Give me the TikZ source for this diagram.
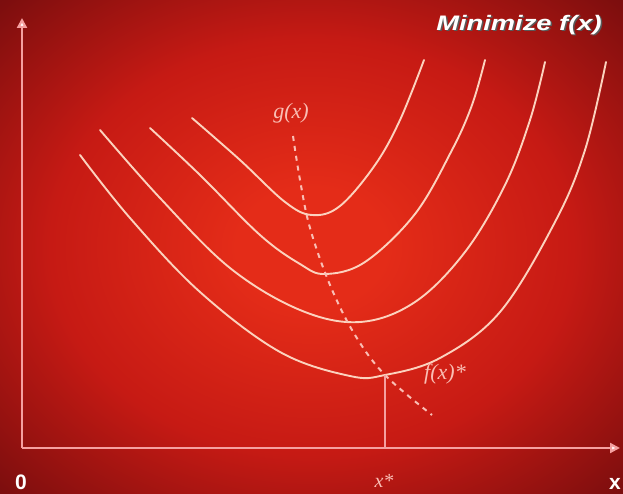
\documentclass[tikz,border=0pt]{standalone}
\usepackage{fontspec}
\setmainfont{Liberation Serif}
\setsansfont{Liberation Sans}
\usetikzlibrary{arrows.meta}
\definecolor{bgin}{RGB}{228,44,24}
\definecolor{bgmid}{RGB}{198,26,20}
\definecolor{bgout}{RGB}{125,14,14}
\definecolor{bgcorner}{RGB}{82,8,8}
\definecolor{curvec}{RGB}{252,210,190}
\definecolor{axisc}{RGB}{245,160,160}
\definecolor{labc}{RGB}{250,190,180}
\pgfdeclareradialshading{bgshade}{\pgfpoint{0bp}{0bp}}{%
  color(0bp)=(bgin); color(6bp)=(bgin); color(21bp)=(bgmid); color(35bp)=(bgout); color(50bp)=(bgcorner)}
\tikzset{
  curve/.style={draw=curvec, line width=1.9pt, line cap=round},
  axisline/.style={draw=axisc, line width=2.2pt, -{Triangle[length=10pt,width=10pt,fill=white]}},
  gdash/.style={draw=labc, line width=2pt, dash pattern=on 5pt off 5pt},
  lab/.style={text=labc, font=\itshape\fontsize{22}{22}\selectfont, inner sep=0pt},
  axlab/.style={text=white, font=\sffamily\bfseries\fontsize{21}{21}\selectfont, inner sep=0pt}
}
\begin{document}
\begin{tikzpicture}[x=1pt,y=-1pt]
\useasboundingbox (0,0) rectangle (623,494);
\shade[shading=bgshade] (0,0) rectangle (623,494);
% axes
\coordinate (O) at (22,448);
\coordinate (ytop) at (22,18);
\coordinate (xend) at (620,448);
\draw[axisline] (O) -- (ytop);
\draw[axisline] (O) -- (xend);
% curves
\draw[curve] plot[smooth, tension=0.6] coordinates {(80,155) (130,218) (200,292) (280,352) (350,376) (385,375) (440,358) (500,312) (555,222) (585,150) (606,62)};
\draw[curve] plot[smooth, tension=0.6] coordinates {(100,130) (160,198) (230,268) (300,310) (360,322) (415,302) (465,252) (505,185) (530,120) (545,62)};
\draw[curve] plot[smooth, tension=0.6] coordinates {(150,128) (200,175) (260,235) (300,264) (325,274) (365,262) (415,214) (452,150) (472,105) (485,60)};
\draw[curve] plot[smooth, tension=0.6] coordinates {(192,118) (240,160) (285,202) (312,215) (340,206) (375,165) (400,120) (424,60)};
% dashed g(x)
\draw[gdash] plot[smooth, tension=0.6] coordinates {(293,136) (300,180) (310,228) (330,285) (355,335) (385,375) (432,415)};
% x* drop line
\coordinate (fmin) at (385,375);
\coordinate (fbase) at (385,447);
\draw[draw=axisc, line width=1.4pt] (fmin) -- (fbase);
% labels
\node[lab] (g) at (291,113) {g(x)};
\node[lab] (fstar) at (445,374) {f(x)*};
\node[lab, font=\itshape\fontsize{20}{20}\selectfont] (xs) at (384,481) {x*};
\node[axlab] (zero) at (21,482) {0};
\node[axlab] (xl) at (615,484) {x};
\node[text=black!65, xscale=1.3, font=\sffamily\bfseries\itshape\fontsize{21}{21}\selectfont, inner sep=0pt] (titsh) at (520.5,26.5) {Minimize f(x)};
\node[text=white, xscale=1.3, font=\sffamily\bfseries\itshape\fontsize{21}{21}\selectfont, inner sep=0pt] (tit) at (519,25) {Minimize f(x)};
\end{tikzpicture}
\end{document}
